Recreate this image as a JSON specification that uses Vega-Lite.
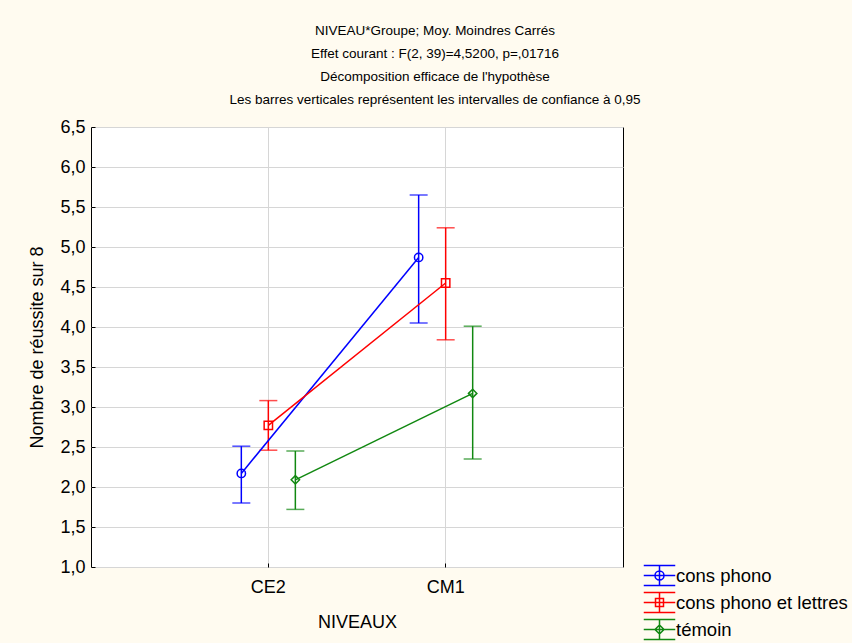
{
  "$schema": "https://vega.github.io/schema/vega-lite/v6.json",
  "width": 532,
  "height": 440,
  "autosize": {"type": "none"},
  "padding": {"left": 91, "top": 127, "right": 229, "bottom": 76},
  "background": "#fffbf0",
  "config": {
    "view": {"fill": "white", "stroke": "black", "strokeWidth": 1},
    "font": "Liberation Sans",
    "axisY": {
      "labelExpr": "replace(format(datum.value, '.1f'), '.', ',')",
      "labelFontSize": 18,
      "labelColor": "black",
      "labelPadding": 10,
      "labelOverlap": false,
      "ticks": true,
      "tickSize": -4,
      "tickColor": "black",
      "domain": false,
      "grid": true,
      "gridColor": "#d6d6d6",
      "titleFontSize": 18,
      "titleFontWeight": "normal",
      "titleColor": "black",
      "titlePadding": 13
    }
  },
  "title": {
    "text": [
      "NIVEAU*Groupe; Moy. Moindres Carrés",
      "Effet courant : F(2, 39)=4,5200, p=,01716",
      "Décomposition efficace de l'hypothèse",
      "Les barres verticales représentent les intervalles de confiance à 0,95"
    ],
    "font": "Liberation Sans",
    "fontSize": 13.5,
    "fontWeight": "normal",
    "lineHeight": 23,
    "offset": 12,
    "dx": 78,
    "anchor": "middle",
    "color": "black"
  },
  "data": {
    "values": [
      {"niveau": "CE2", "groupe": "cons phono", "moyenne": 2.17, "bas": 1.80, "haut": 2.51},
      {"niveau": "CE2", "groupe": "cons phono et lettres", "moyenne": 2.77, "bas": 2.46, "haut": 3.08},
      {"niveau": "CE2", "groupe": "témoin", "moyenne": 2.09, "bas": 1.72, "haut": 2.45},
      {"niveau": "CM1", "groupe": "cons phono", "moyenne": 4.87, "bas": 4.05, "haut": 5.65},
      {"niveau": "CM1", "groupe": "cons phono et lettres", "moyenne": 4.55, "bas": 3.84, "haut": 5.24},
      {"niveau": "CM1", "groupe": "témoin", "moyenne": 3.17, "bas": 2.35, "haut": 4.01}
    ]
  },
  "resolve": {"scale": {"color": "independent", "shape": "independent"}},
  "encoding": {
    "x": {
      "field": "niveau",
      "type": "nominal",
      "scale": {"domain": ["CE2", "CM1"], "paddingInner": 0.543, "paddingOuter": 0.7715},
      "axis": {
        "title": "NIVEAUX",
        "labelAngle": 0,
        "labelFontSize": 18,
        "labelColor": "black",
        "labelPadding": 15,
        "ticks": true,
        "tickSize": -4,
        "tickColor": "black",
        "domain": false,
        "grid": true,
        "bandPosition": 0.5,
        "gridColor": "#d6d6d6",
        "titleFontSize": 18,
        "titleFontWeight": "normal",
        "titleColor": "black",
        "titlePadding": 17
      }
    },
    "xOffset": {
      "field": "groupe",
      "type": "nominal",
      "scale": {"domain": ["cons phono", "cons phono et lettres", "témoin"], "padding": 0}
    },
    "color": {
      "field": "groupe",
      "type": "nominal",
      "scale": {"domain": ["cons phono", "cons phono et lettres", "témoin"], "range": ["#0000ff", "#ff0000", "#118811"]},
      "legend": null
    }
  },
  "layer": [
    {
      "mark": {"type": "rule", "strokeWidth": 1.5},
      "encoding": {
        "y": {
          "field": "haut",
          "type": "quantitative",
          "scale": {"domain": [1, 6.5], "nice": false, "zero": false},
          "axis": {
            "title": "Nombre de réussite sur 8",
            "values": [1, 1.5, 2, 2.5, 3, 3.5, 4, 4.5, 5, 5.5, 6, 6.5],
            "tickCount": 20
          }
        },
        "y2": {"field": "bas"}
      }
    },
    {
      "mark": {"type": "tick", "thickness": 1.5, "size": 18},
      "encoding": {"y": {"field": "haut", "type": "quantitative", "axis": {"title": "Nombre de réussite sur 8", "values": [1, 1.5, 2, 2.5, 3, 3.5, 4, 4.5, 5, 5.5, 6, 6.5], "tickCount": 20}}}
    },
    {
      "mark": {"type": "tick", "thickness": 1.5, "size": 18},
      "encoding": {"y": {"field": "bas", "type": "quantitative", "axis": {"title": "Nombre de réussite sur 8", "values": [1, 1.5, 2, 2.5, 3, 3.5, 4, 4.5, 5, 5.5, 6, 6.5], "tickCount": 20}}}
    },
    {
      "mark": {"type": "line", "strokeWidth": 1.5},
      "encoding": {"y": {"field": "moyenne", "type": "quantitative", "axis": {"title": "Nombre de réussite sur 8", "values": [1, 1.5, 2, 2.5, 3, 3.5, 4, 4.5, 5, 5.5, 6, 6.5], "tickCount": 20}}}
    },
    {
      "mark": {"type": "point", "filled": false, "strokeWidth": 1.5, "size": 70, "opacity": 1},
      "encoding": {
        "y": {"field": "moyenne", "type": "quantitative", "axis": {"title": "Nombre de réussite sur 8", "values": [1, 1.5, 2, 2.5, 3, 3.5, 4, 4.5, 5, 5.5, 6, 6.5], "tickCount": 20}},
        "shape": {
          "field": "groupe",
          "type": "nominal",
          "scale": {"domain": ["cons phono", "cons phono et lettres", "témoin"], "range": ["circle", "square", "diamond"]},
          "legend": null
        }
      }
    },
    {
      "mark": {"type": "point", "filled": false, "strokeWidth": 1.5, "size": 70, "opacity": 0},
      "encoding": {
        "y": {"field": "moyenne", "type": "quantitative", "axis": {"title": "Nombre de réussite sur 8", "values": [1, 1.5, 2, 2.5, 3, 3.5, 4, 4.5, 5, 5.5, 6, 6.5], "tickCount": 20}},
        "color": {
          "field": "groupe",
          "type": "nominal",
          "scale": {"domain": ["cons phono", "cons phono et lettres", "témoin"], "range": ["#0000ff", "#ff0000", "#118811"]},
          "legend": {
            "title": null,
            "orient": "none",
            "legendX": 557,
            "legendY": 437,
            "padding": 0,
            "rowPadding": 0,
            "symbolSize": 441,
            "symbolStrokeWidth": 1.5,
            "symbolOpacity": 1,
            "labelFontSize": 18.5,
            "labelColor": "black",
            "labelOffset": 5,
            "labelLimit": 300
          }
        },
        "shape": {
          "field": "groupe",
          "type": "nominal",
          "scale": {"domain": ["cons phono", "cons phono et lettres", "témoin"], "range": ["M-1.5,-0.95H1.5M-1.5,0.95H1.5M-1.5,0H1.5M0,-0.95V0.95M0.43,0A0.43,0.43,0,1,1,-0.43,0A0.43,0.43,0,1,1,0.43,0Z", "M-1.5,-0.95H1.5M-1.5,0.95H1.5M-1.5,0H1.5M0,-0.95V0.95M-0.38,-0.38H0.38V0.38H-0.38Z", "M-1.5,-0.95H1.5M-1.5,0.95H1.5M-1.5,0H1.5M0,-0.95V0.95M0,-0.43L0.43,0L0,0.43L-0.43,0Z"]},
          "legend": {
            "title": null,
            "orient": "none",
            "legendX": 557,
            "legendY": 437,
            "padding": 0,
            "rowPadding": 0,
            "symbolSize": 441,
            "symbolStrokeWidth": 1.5,
            "symbolOpacity": 1,
            "labelFontSize": 18.5,
            "labelColor": "black",
            "labelOffset": 5,
            "labelLimit": 300
          }
        }
      }
    }
  ]
}
